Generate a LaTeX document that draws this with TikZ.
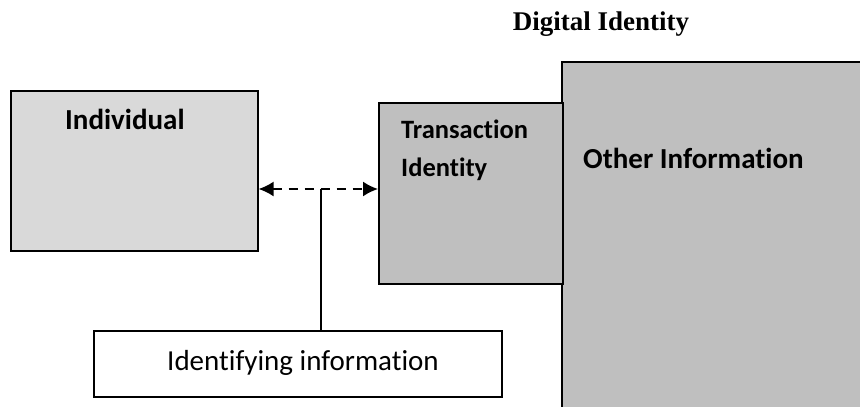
\documentclass[tikz,border=0pt]{standalone}
\usepackage{fontspec}
\setmainfont{Carlito}[Ligatures = NoCommon]
\newfontfamily\titlefont{Liberation Serif}
\usetikzlibrary{arrows.meta}
\definecolor{lightbox}{RGB}{217,217,217}
\definecolor{darkbox}{RGB}{191,191,191}

\begin{document}
\begin{tikzpicture}[x = 1pt, y = -1pt,
	box/.style = {draw = black, line width = 1.6pt, inner sep = 0pt, anchor = north west},
	lbl/.style = {inner sep = 0pt, anchor = base west, font = \bfseries\fontsize{29}{33}\selectfont}]

	\useasboundingbox (0, 0) rectangle (860, 407);

	% Digital Identity (big box, runs off the page)
	\fill[darkbox] (562, 62) rectangle (860, 407);
	\draw[line width = 1.6pt] (562, 407) -- (562, 226);
	\draw[line width = 1.6pt] (562, 166) -- (562, 62) -- (861, 62);
	\node[lbl] (other) at (583, 168) {Other Information};
	\node[inner sep = 0pt, anchor = base, font = \titlefont\bfseries\fontsize{27}{31}\selectfont] (title) at (601, 30) {Digital Identity};

	\node[box, fill = lightbox, minimum width = 247pt, minimum height = 160pt] (individual) at (10, 90) {};
	\node[lbl] (individual label) at (65, 129) {Individual};

	\node[box, fill = darkbox, minimum width = 184pt, minimum height = 181pt] (transaction) at (378, 102) {};
	\node[lbl, font = \bfseries\fontsize{26.5}{30}\selectfont] (transaction label 1) at (401, 138) {Transaction};
	\node[lbl, font = \bfseries\fontsize{26.5}{30}\selectfont] (transaction label 2) at (401, 176) {Identity};

	\node[box, fill = white, minimum width = 408pt, minimum height = 66pt] (identifying) at (93, 330) {};
	\node[inner sep = 0pt, font = \fontsize{29}{33}\selectfont] (identifying label) at (303, 363) {Identifying information};

	\coordinate (link) at (321, 189);
	\draw[dashed, dash pattern = on 9pt off 7pt, line width = 1.8pt, {Latex[length = 15pt, width = 15pt]}-{Latex[length = 15pt, width = 15pt]}] (link -| individual.east) -- (link -| transaction.west);
	\draw[line width = 1.6pt] (link) -- (link |- identifying.north);

\end{tikzpicture}
\end{document}
